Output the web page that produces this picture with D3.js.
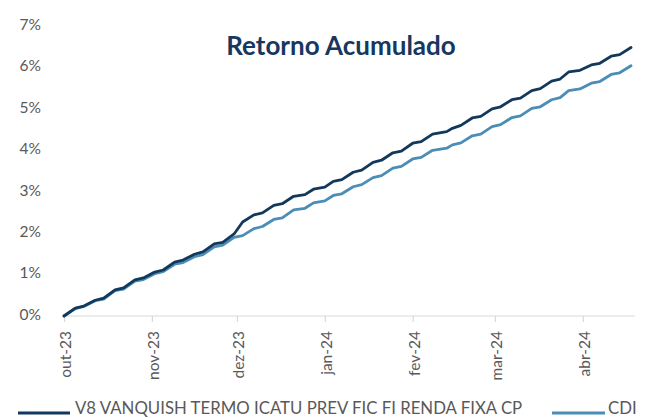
<!DOCTYPE html>
<html>
<head>
<meta charset="utf-8">
<script src="https://cdn.jsdelivr.net/npm/d3@7"></script>
<style>
  body { margin: 0; background: #fff; }
  svg { display: block; font-family: Lato, "Open Sans", sans-serif; }
</style>
</head>
<body>
<svg id="chart" width="652" height="418"></svg>
<script>
// dates (fridays / mondays), cumulative return in %
var dates = ["2023-10-02","2023-10-06","2023-10-09","2023-10-13","2023-10-16","2023-10-20","2023-10-23","2023-10-27","2023-10-30",
  "2023-11-03","2023-11-06","2023-11-10","2023-11-13","2023-11-17","2023-11-20","2023-11-24","2023-11-27",
  "2023-12-01","2023-12-04","2023-12-08","2023-12-11","2023-12-15","2023-12-18","2023-12-22","2023-12-26","2023-12-29",
  "2024-01-02","2024-01-05","2024-01-08","2024-01-12","2024-01-15","2024-01-19","2024-01-22","2024-01-26","2024-01-29",
  "2024-02-02","2024-02-05","2024-02-09","2024-02-14","2024-02-16","2024-02-19","2024-02-23","2024-02-26",
  "2024-03-01","2024-03-04","2024-03-08","2024-03-11","2024-03-15","2024-03-18","2024-03-22","2024-03-25","2024-03-28",
  "2024-04-01","2024-04-05","2024-04-08","2024-04-12","2024-04-15","2024-04-19"];

var fundo = [0, 0.19, 0.24, 0.38, 0.43, 0.63, 0.68, 0.87, 0.92,
  1.06, 1.11, 1.30, 1.35, 1.49, 1.55, 1.74, 1.78,
  1.98, 2.27, 2.44, 2.49, 2.67, 2.71, 2.89, 2.93, 3.06,
  3.11, 3.25, 3.29, 3.47, 3.52, 3.71, 3.76, 3.94, 3.98,
  4.17, 4.21, 4.39, 4.45, 4.53, 4.60, 4.78, 4.82,
  5.00, 5.05, 5.22, 5.26, 5.44, 5.49, 5.67, 5.72, 5.89,
  5.93, 6.06, 6.10, 6.27, 6.31, 6.48];

var cdi = [0, 0.18, 0.23, 0.37, 0.41, 0.61, 0.65, 0.84, 0.88,
  1.02, 1.07, 1.25, 1.29, 1.43, 1.48, 1.67, 1.71,
  1.90, 1.94, 2.11, 2.16, 2.33, 2.37, 2.56, 2.60, 2.73,
  2.78, 2.91, 2.95, 3.12, 3.17, 3.34, 3.39, 3.57, 3.61,
  3.79, 3.83, 4.00, 4.05, 4.13, 4.18, 4.35, 4.39,
  4.57, 4.62, 4.79, 4.83, 5.01, 5.05, 5.22, 5.27, 5.44,
  5.48, 5.62, 5.66, 5.83, 5.87, 6.04];

var tickDates = ["2023-10-02","2023-11-02","2023-12-02","2024-01-02","2024-02-02","2024-03-02","2024-04-02"];
var yTicks = [0, 1, 2, 3, 4, 5, 6, 7];
var meses = ["jan","fev","mar","abr","mai","jun","jul","ago","set","out","nov","dez"];
var seriesNames = ["V8 VANQUISH TERMO ICATU PREV FIC FI RENDA FIXA CP", "CDI"];
var colors = ["#12385b", "#4a8db6"];
var title = "Retorno Acumulado";

var parse = d3.utcParse("%Y-%m-%d");
var svg = d3.select("#chart");

var x = d3.scaleUtc()
    .domain([parse(dates[0]), parse(dates[dates.length - 1])])
    .range([64, 631]);
var y = d3.scaleLinear().domain([0, 7]).range([316, 26]);

// x axis line
svg.append("line")
    .attr("x1", 64).attr("x2", 635)
    .attr("y1", y(0)).attr("y2", y(0))
    .attr("stroke", "#d9d9d9").attr("stroke-width", 1.2);

var xAxis = d3.axisBottom(x)
    .tickValues(tickDates.map(parse))
    .tickSize(6)
    .tickFormat(function(d) { return meses[d.getUTCMonth()] + "-" + String(d.getUTCFullYear()).slice(2); });

var gx = svg.append("g")
    .attr("transform", "translate(0," + y(0) + ")")
    .call(xAxis);
gx.select(".domain").remove();
gx.selectAll(".tick line").attr("stroke", "#d9d9d9").attr("stroke-width", 1.2);
gx.selectAll(".tick text")
    .attr("fill", "#595959")
    .style("font-size", "15.5px")
    .style("font-family", "Lato, sans-serif")
    .attr("text-anchor", "end")
    .attr("transform", "translate(0,15) rotate(-90)")
    .attr("x", 0).attr("y", 0)
    .attr("dy", "0.45em");

// y labels (no axis line)
svg.append("g").selectAll("text")
    .data(yTicks)
    .enter().append("text")
    .attr("x", 41)
    .attr("y", function(d) { return y(d) - 1.5; })
    .attr("dy", "0.35em")
    .attr("text-anchor", "end")
    .attr("fill", "#595959")
    .style("font-size", "15.5px")
    .text(function(d) { return d + "%"; });

// lines
var line = d3.line()
    .x(function(d, i) { return x(parse(dates[i])); })
    .y(function(d) { return y(d); });

[cdi, fundo].forEach(function(s, k) {
  svg.append("path")
      .datum(s)
      .attr("fill", "none")
      .attr("stroke", k === 0 ? colors[1] : colors[0])
      .attr("stroke-width", 2.8)
      .attr("stroke-linejoin", "round")
      .attr("stroke-linecap", "round")
      .attr("d", line);
});

svg.append("text")
    .attr("x", 341).attr("y", 55)
    .attr("text-anchor", "middle")
    .attr("fill", "#17375e")
    .style("font-size", "26px")
    .style("font-weight", "bold")
    .text(title);

// legend (kept just inside the bottom edge)
var legend = [{x1: 18, x2: 70, tx: 75}, {x1: 552, x2: 605, tx: 608}];
legend.forEach(function(l, i) {
  svg.append("line")
      .attr("x1", l.x1).attr("x2", l.x2)
      .attr("y1", 413).attr("y2", 413)
      .attr("stroke", colors[i]).attr("stroke-width", 3);
  svg.append("text")
      .attr("x", l.tx).attr("y", 414)
      .attr("fill", "#595959")
      .style("font-size", "16.8px")
      .text(seriesNames[i]);
});
</script>
</body>
</html>
